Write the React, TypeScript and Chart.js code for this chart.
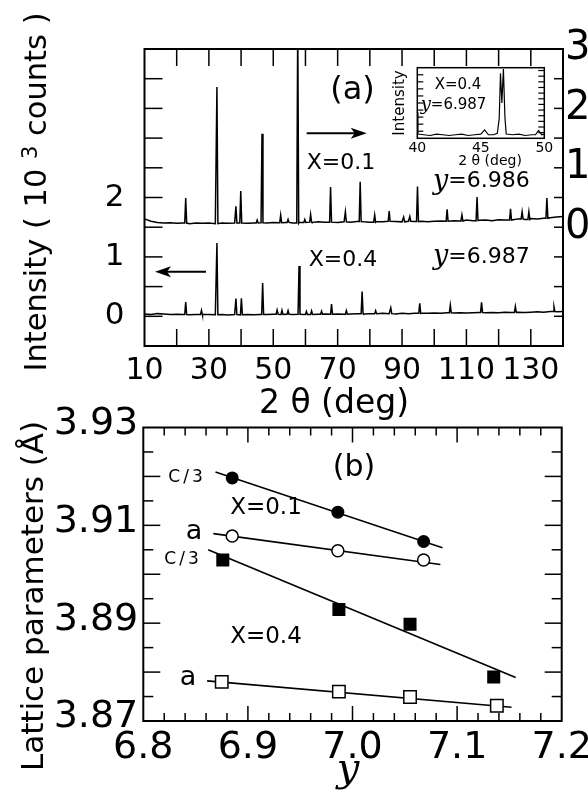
import React, { useEffect, useRef } from "react";
import { Chart, registerables } from "chart.js";

Chart.register(...registerables);
Chart.defaults.color = "#000";

const SANS = "'DejaVu Sans', 'Liberation Sans', sans-serif";
const SERIF = "'DejaVu Serif', 'Liberation Serif', serif";

// ---------------- Panel (a): XRD patterns ----------------
const baselineDeg = [10,12,14,16,18,20,22,24,26,28,30,32,34,36,38,40,42,44,46,48,50,52,54,56,58,60,62,64,66,68,70,72,74,76,78,80,82,84,86,88,90,92,94,96,98,100,102,104,106,108,110,112,114,116,118,120,122,124,126,128,130,132,134,136,138,140];
// X=0.1 pattern, right axis (10^3 counts)
const base01 = [0.14,0.10,0.08,0.07,0.075,0.065,0.07,0.06,0.07,0.065,0.07,0.06,0.07,0.065,0.07,0.075,0.065,0.07,0.075,0.07,0.08,0.075,0.08,0.07,0.08,0.085,0.08,0.09,0.085,0.09,0.08,0.09,0.085,0.095,0.09,0.085,0.095,0.09,0.1,0.095,0.09,0.1,0.095,0.1,0.09,0.1,0.105,0.1,0.11,0.105,0.12,0.11,0.115,0.12,0.11,0.125,0.12,0.13,0.14,0.13,0.145,0.14,0.15,0.16,0.17,0.18];
const peakDeg01 = [22.8,32.5,38.4,39.9,45.0,46.5,52.3,54.6,57.6,59.8,61.6,67.8,72.4,77.0,81.5,86.0,90.5,92.4,94.8,104.0,108.6,113.3,123.7,127.3,129.4,135.0];
const peakHt01 = [0.42,2.30,0.28,0.54,0.05,1.50,0.13,0.05,3.40,0.05,0.13,0.59,0.17,0.67,0.12,0.17,0.08,0.08,0.59,0.20,0.10,0.40,0.19,0.12,0.13,0.34];
// X=0.4 pattern, left axis (10^3 counts)
const base04 = [0.04,0.03,0.045,0.04,0.03,0.035,0.03,0.025,0.03,0.025,0.03,0.025,0.03,0.02,0.03,0.025,0.03,0.025,0.03,0.03,0.035,0.03,0.035,0.03,0.035,0.03,0.04,0.035,0.04,0.035,0.04,0.035,0.04,0.045,0.04,0.045,0.04,0.05,0.045,0.04,0.05,0.045,0.05,0.055,0.05,0.055,0.05,0.06,0.055,0.06,0.055,0.06,0.065,0.06,0.065,0.06,0.07,0.065,0.07,0.065,0.07,0.075,0.07,0.08,0.075,0.08];
const peakDeg04 = [22.8,27.7,32.5,38.4,40.1,46.7,51.2,52.7,54.6,58.0,60.3,61.9,65.0,68.1,72.7,77.6,81.8,86.5,95.5,105.0,114.7,125.2,137.2];
const peakHt04 = [0.21,0.07,1.21,0.27,0.28,0.53,0.07,0.07,0.06,0.81,0.05,0.06,0.05,0.17,0.06,0.37,0.05,0.10,0.17,0.13,0.17,0.10,0.08];
// inset (X=0.4, 40-50 deg), relative intensity
const insetDeg = [40.0,40.05,40.5,41,41.5,42,42.5,43,43.5,44,44.5,45,45.3,45.6,46,46.3,46.45,46.55,46.66,46.78,46.9,47.0,47.5,48,48.5,49,49.3,49.55,49.8,50];
const insetVal = [0.37,0.06,0.05,0.04,0.06,0.05,0.04,0.05,0.06,0.04,0.05,0.06,0.12,0.05,0.05,0.07,0.28,0.92,0.5,0.98,0.3,0.06,0.05,0.06,0.04,0.05,0.05,0.11,0.05,0.06];

const xTickLabelsA = [10, 30, 50, 70, 90, 110, 130];
const yLeftLabelsA = [0, 1, 2];
const yRightLabelsA = [0, 1, 2, 3];
const insetTickLabels = [40, 45, 50];

// ---------------- Panel (b): lattice parameters ----------------
const oxyC01 = [6.885, 6.986, 7.068];
const latC01 = [3.9197, 3.9127, 3.9067];
const oxyA01 = [6.885, 6.986, 7.068];
const latA01 = [3.9078, 3.9048, 3.9029];
const oxyC04 = [6.876, 6.987, 7.055, 7.135];
const latC04 = [3.9029, 3.8928, 3.8898, 3.879];
const oxyA04 = [6.875, 6.987, 7.055, 7.138];
const latA04 = [3.878, 3.876, 3.8749, 3.8731];
const fitC01x = [6.869, 7.086];
const fitC01y = [3.9209, 3.9054];
const fitA01x = [6.867, 7.084];
const fitA01y = [3.9083, 3.902];
const fitC04x = [6.862, 7.156];
const fitC04y = [3.905, 3.8789];
const fitA04x = [6.861, 7.152];
const fitA04y = [3.8782, 3.8728];

const xTickLabelsB = [6.8, 6.9, 7.0, 7.1, 7.2];
const yTickLabelsB = [3.87, 3.89, 3.91, 3.93];

// ---------------- helpers ----------------
const near = (v: number, arr: number[]) => arr.some((a) => Math.abs(a - v) < 1e-6);
const zip = (xs: number[], ys: number[]) => xs.map((x, i) => ({ x, y: ys[i] }));

function buildTrace(bx: number[], by: number[], px: number[], ph: number[], hw: number) {
  const pts: { x: number; y: number }[] = [];
  bx.forEach((x, i) => {
    if (!px.some((p) => Math.abs(p - x) <= hw)) pts.push({ x, y: by[i] });
  });
  px.forEach((p, i) => {
    let j = 0;
    while (j < bx.length - 1 && bx[j + 1] <= p) j++;
    const b = by[j];
    pts.push({ x: p - hw, y: b }, { x: p, y: b + ph[i] }, { x: p + hw, y: b });
  });
  return pts.sort((a, b) => a.x - b.x);
}

type TextItem = {
  t: string; x: number; y: number; size: number; family?: string; style?: string;
  rot?: number; align?: CanvasTextAlign; base?: CanvasTextBaseline; spacing?: number;
};

function drawText(ctx: CanvasRenderingContext2D, it: TextItem) {
  ctx.save();
  ctx.translate(it.x, it.y);
  if (it.rot) ctx.rotate(it.rot);
  ctx.font = `${it.style || "normal"} ${it.size}px ${it.family || SANS}`;
  ctx.fillStyle = "#000";
  ctx.textAlign = it.align || "center";
  ctx.textBaseline = it.base || "middle";
  if (it.spacing && "letterSpacing" in ctx) (ctx as any).letterSpacing = it.spacing + "px";
  ctx.fillText(it.t, 0, 0);
  ctx.restore();
}

type Seg = { t: string; size: number; family?: string; style?: string; dy?: number };
const segFont = (s: Seg) => `${s.style || "normal"} ${s.size}px ${s.family || SANS}`;

function drawRich(ctx: CanvasRenderingContext2D, x: number, y: number, segs: Seg[], rot = 0, centered = false) {
  ctx.save();
  ctx.translate(x, y);
  if (rot) ctx.rotate(rot);
  ctx.fillStyle = "#000";
  ctx.textAlign = "left";
  ctx.textBaseline = "middle";
  let total = 0;
  segs.forEach((s) => {
    ctx.font = segFont(s);
    total += ctx.measureText(s.t).width;
  });
  let cx = centered ? -total / 2 : 0;
  segs.forEach((s) => {
    ctx.font = segFont(s);
    ctx.fillText(s.t, cx, s.dy || 0);
    cx += ctx.measureText(s.t).width;
  });
  ctx.restore();
}

function arrow(ctx: CanvasRenderingContext2D, xTail: number, y: number, xTip: number) {
  const dir = xTip > xTail ? 1 : -1;
  ctx.save();
  ctx.strokeStyle = "#000";
  ctx.fillStyle = "#000";
  ctx.lineWidth = 2;
  ctx.beginPath();
  ctx.moveTo(xTail, y);
  ctx.lineTo(xTip - dir * 8, y);
  ctx.stroke();
  ctx.beginPath();
  ctx.moveTo(xTip, y);
  ctx.lineTo(xTip - dir * 16, y - 5.5);
  ctx.lineTo(xTip - dir * 12, y);
  ctx.lineTo(xTip - dir * 16, y + 5.5);
  ctx.closePath();
  ctx.fill();
  ctx.restore();
}

function tickAt(ctx: CanvasRenderingContext2D, a: any, side: string, p: number, l: number) {
  ctx.beginPath();
  if (side === "left" || side === "right") {
    if (p <= a.top + 1 || p >= a.bottom - 1) return;
    const x0 = side === "left" ? a.left : a.right;
    ctx.moveTo(x0, p);
    ctx.lineTo(side === "left" ? x0 + l : x0 - l, p);
  } else {
    if (p <= a.left + 1 || p >= a.right - 1) return;
    const y0 = side === "top" ? a.top : a.bottom;
    ctx.moveTo(p, y0);
    ctx.lineTo(p, side === "top" ? y0 + l : y0 - l);
  }
  ctx.stroke();
}

function innerTicks(chart: any, id: string, side: string, len: (v: number) => number, lw = 1.5) {
  const ctx = chart.ctx as CanvasRenderingContext2D;
  const s = chart.scales[id];
  const a = chart.chartArea;
  ctx.save();
  ctx.strokeStyle = "#000";
  ctx.lineWidth = lw;
  s.ticks.forEach((t: any) => {
    const l = len(t.value);
    if (l) tickAt(ctx, a, side, s.getPixelForValue(t.value), l);
  });
  ctx.restore();
}

function frame(chart: any, lw: number) {
  const ctx = chart.ctx as CanvasRenderingContext2D;
  const a = chart.chartArea;
  ctx.save();
  ctx.strokeStyle = "#000";
  ctx.lineWidth = lw;
  ctx.strokeRect(a.left, a.top, a.right - a.left, a.bottom - a.top);
  ctx.restore();
}

const fixW = (w: number) => (s: any) => {
  s.width = w;
  s.paddingTop = 0; s.paddingBottom = 0; s.paddingLeft = 0; s.paddingRight = 0;
};
const fixH = (h: number) => (s: any) => {
  s.height = h;
  s.paddingTop = 0; s.paddingBottom = 0; s.paddingLeft = 0; s.paddingRight = 0;
};
const noGrid = { display: false, drawTicks: false };
const noBorder = { display: false };

// ---------------- chart configs ----------------
function topConfig(): any {
  const traceStyle = { borderColor: "#000", borderWidth: 1.5, pointRadius: 0, tension: 0, fill: false };
  return {
    type: "line",
    data: {
      datasets: [
        { ...traceStyle, label: "X=0.1", yAxisID: "yR", data: buildTrace(baselineDeg, base01, peakDeg01, peakHt01, 0.3) },
        { ...traceStyle, label: "X=0.4", yAxisID: "yL", data: buildTrace(baselineDeg, base04, peakDeg04, peakHt04, 0.3) },
      ],
    },
    options: {
      responsive: false,
      animation: false,
      events: [],
      layout: { padding: { top: 49, left: 0, right: 0, bottom: 0 } },
      plugins: { legend: { display: false }, tooltip: { enabled: false } },
      scales: {
        x: {
          type: "linear", position: "bottom", min: 10, max: 140,
          grid: noGrid, border: noBorder,
          ticks: {
            stepSize: 10, autoSkip: false, maxRotation: 0, minRotation: 0, padding: 7,
            font: { family: SANS, size: 30 }, color: "#000",
            callback: (v: number) => (near(v, xTickLabelsA) ? String(v) : ""),
          },
          afterFit: fixH(74),
        },
        yL: {
          type: "linear", position: "left", min: -0.5, max: 4.5,
          grid: noGrid, border: noBorder,
          ticks: {
            stepSize: 0.5, autoSkip: false, padding: 20,
            font: { family: SANS, size: 31 }, color: "#000",
            callback: (v: number) => (near(v, yLeftLabelsA) ? String(v) : ""),
          },
          afterFit: fixW(144.5),
        },
        yR: {
          type: "linear", position: "right", min: -2, max: 3,
          grid: noGrid, border: noBorder,
          ticks: {
            stepSize: 0.5, autoSkip: false, padding: 2,
            font: { family: SANS, size: 40 }, color: "#000",
            callback: (v: number) => (near(v, yRightLabelsA) ? String(v) : ""),
          },
          afterFit: fixW(25),
        },
      },
    },
    plugins: [
      {
        id: "panelA",
        afterDraw(chart: any) {
          const ctx = chart.ctx as CanvasRenderingContext2D;
          frame(chart, 2);
          innerTicks(chart, "x", "top", () => 17);
          innerTicks(chart, "x", "bottom", () => 17);
          innerTicks(chart, "yL", "left", () => 18);
          innerTicks(chart, "yR", "right", () => 9);
          arrow(ctx, 306.7, 133.3, 366.7);
          arrow(ctx, 206, 271.7, 155);
          drawText(ctx, { t: "(a)", x: 352.5, y: 91, size: 32 });
          drawText(ctx, { t: "X=0.1", x: 341, y: 163.3, size: 22 });
          drawRich(ctx, 433, 181.7, [
            { t: "y", size: 27, family: SERIF, style: "italic" },
            { t: "=6.986", size: 22 },
          ]);
          drawText(ctx, { t: "X=0.4", x: 343, y: 260, size: 22 });
          drawRich(ctx, 433, 257, [
            { t: "y", size: 27, family: SERIF, style: "italic" },
            { t: "=6.987", size: 22 },
          ]);
          drawRich(ctx, 38, 192, [
            { t: "Intensity ( 10 ", size: 30.5 },
            { t: "3", size: 21, dy: -6 },
            { t: " counts )", size: 30.5 },
          ], -Math.PI / 2, true);
          drawText(ctx, { t: "2 \u03B8 (deg)", x: 334, y: 404, size: 33 });
        },
      },
    ],
  };
}

function insetConfig(): any {
  return {
    type: "line",
    data: {
      datasets: [
        {
          label: "inset", data: zip(insetDeg, insetVal),
          borderColor: "#000", borderWidth: 1.2, pointRadius: 0, tension: 0, fill: false,
        },
      ],
    },
    options: {
      responsive: false,
      animation: false,
      events: [],
      layout: { padding: { top: 7.7, right: 15.7, left: 0, bottom: 0 } },
      plugins: { legend: { display: false }, tooltip: { enabled: false } },
      scales: {
        x: {
          type: "linear", min: 40, max: 50, grid: noGrid, border: noBorder,
          ticks: {
            stepSize: 5, autoSkip: false, maxRotation: 0, padding: 2,
            font: { family: SANS, size: 14 }, color: "#000",
            callback: (v: number) => (near(v, insetTickLabels) ? String(v) : ""),
          },
          afterFit: fixH(31.7),
        },
        y: {
          type: "linear", min: 0, max: 1, grid: noGrid, border: noBorder,
          ticks: { stepSize: 0.1, display: false },
          afterFit: fixW(32.3),
        },
      },
    },
    plugins: [
      {
        id: "inset",
        afterDraw(chart: any) {
          const ctx = chart.ctx as CanvasRenderingContext2D;
          const a = chart.chartArea;
          const ys = chart.scales.y;
          frame(chart, 1.5);
          innerTicks(chart, "y", "left", () => 6, 1.2);
          ctx.save();
          ctx.strokeStyle = "#000";
          ctx.lineWidth = 1.2;
          for (let k = 1; k * 0.08 < 1; k++) tickAt(ctx, a, "right", ys.getPixelForValue(k * 0.08), 6);
          ctx.restore();
          drawText(ctx, { t: "Intensity", x: 15, y: 43, size: 15, rot: -Math.PI / 2 });
          drawText(ctx, { t: "2 \u03B8 (deg)", x: 105, y: 101, size: 14 });
          drawText(ctx, { t: "X=0.4", x: 73, y: 25, size: 15 });
          drawRich(ctx, 35.7, 45, [
            { t: "y", size: 18, family: SERIF, style: "italic" },
            { t: "=6.987", size: 15 },
          ]);
        },
      },
    ],
  };
}

function bottomConfig(): any {
  const lineStyle = { showLine: true, borderColor: "#000", borderWidth: 1.6, pointRadius: 0, tension: 0, fill: false };
  return {
    type: "scatter",
    data: {
      datasets: [
        { label: "c/3 X=0.1", data: zip(oxyC01, latC01), pointStyle: "circle", pointRadius: 6.5, backgroundColor: "#000", borderColor: "#000", borderWidth: 0 },
        { label: "a X=0.1", data: zip(oxyA01, latA01), pointStyle: "circle", pointRadius: 6, backgroundColor: "#fff", borderColor: "#000", borderWidth: 1.5 },
        { label: "c/3 X=0.4", data: zip(oxyC04, latC04), pointStyle: "rect", pointRadius: 9.2, backgroundColor: "#000", borderColor: "#000", borderWidth: 0 },
        { label: "a X=0.4", data: zip(oxyA04, latA04), pointStyle: "rect", pointRadius: 8.8, backgroundColor: "#fff", borderColor: "#000", borderWidth: 1.5 },
        { ...lineStyle, label: "fit c/3 X=0.1", data: zip(fitC01x, fitC01y) },
        { ...lineStyle, label: "fit a X=0.1", data: zip(fitA01x, fitA01y) },
        { ...lineStyle, label: "fit c/3 X=0.4", data: zip(fitC04x, fitC04y) },
        { ...lineStyle, label: "fit a X=0.4", data: zip(fitA04x, fitA04y) },
      ],
    },
    options: {
      responsive: false,
      animation: false,
      events: [],
      layout: { padding: { top: 27.5, right: 26.3, left: 0, bottom: 0 } },
      plugins: { legend: { display: false }, tooltip: { enabled: false } },
      scales: {
        x: {
          type: "linear", position: "bottom", min: 6.8, max: 7.2,
          grid: noGrid, border: noBorder,
          ticks: {
            stepSize: 0.02, autoSkip: false, maxRotation: 0, minRotation: 0, padding: 4.5,
            font: { family: SANS, size: 38 }, color: "#000",
            callback: (v: number) => (near(v, xTickLabelsB) ? v.toFixed(1) : ""),
          },
          afterFit: fixH(71),
        },
        y: {
          type: "linear", position: "left", min: 3.87, max: 3.93,
          grid: noGrid, border: noBorder,
          ticks: {
            stepSize: 0.005, autoSkip: false, padding: 5, labelOffset: -3.5,
            font: { family: SANS, size: 38 }, color: "#000",
            callback: (v: number) => (near(v, yTickLabelsB) ? v.toFixed(2) : ""),
          },
          afterFit: fixW(143.3),
        },
      },
    },
    plugins: [
      {
        id: "panelB",
        afterDraw(chart: any) {
          const ctx = chart.ctx as CanvasRenderingContext2D;
          const xMajor = (v: number) => Math.abs(Math.round(v * 10) - v * 10) < 1e-6;
          const yMajor = (v: number) => Math.abs(Math.round(v * 100) - v * 100) < 1e-6;
          frame(chart, 2);
          innerTicks(chart, "x", "top", (v) => (xMajor(v) ? 15 : 8));
          innerTicks(chart, "x", "bottom", (v) => (xMajor(v) ? 15 : 8));
          innerTicks(chart, "y", "left", (v) => (yMajor(v) ? 17 : 10));
          innerTicks(chart, "y", "right", (v) => (yMajor(v) ? 17 : 10));
          drawText(ctx, { t: "(b)", x: 354, y: 68.3, size: 30 });
          drawText(ctx, { t: "C/3", x: 187, y: 77.3, size: 17, spacing: 3 });
          drawText(ctx, { t: "X=0.1", x: 266, y: 108.3, size: 23 });
          drawText(ctx, { t: "a", x: 194, y: 131.7, size: 27 });
          drawText(ctx, { t: "C/3", x: 183, y: 160, size: 17, spacing: 3 });
          drawText(ctx, { t: "X=0.4", x: 266, y: 236.7, size: 23 });
          drawText(ctx, { t: "a", x: 188, y: 278.3, size: 27 });
          drawText(ctx, { t: "Lattice parameters (\u00C5)", x: 35, y: 196, size: 31, rot: -Math.PI / 2 });
          drawText(ctx, { t: "y", x: 348, y: 381, size: 40, family: SERIF, style: "italic", base: "alphabetic" });
        },
      },
    ],
  };
}

export default function App() {
  const topRef = useRef<HTMLCanvasElement | null>(null);
  const insetRef = useRef<HTMLCanvasElement | null>(null);
  const botRef = useRef<HTMLCanvasElement | null>(null);

  useEffect(() => {
    const charts: Chart[] = [];
    if (topRef.current) charts.push(new Chart(topRef.current, topConfig()));
    if (insetRef.current) charts.push(new Chart(insetRef.current, insetConfig()));
    if (botRef.current) charts.push(new Chart(botRef.current, bottomConfig()));
    return () => charts.forEach((c) => c.destroy());
  }, []);

  return (
    <div style={{ position: "absolute", left: 0, top: 0, width: 588, height: 792, background: "#fff", overflow: "hidden" }}>
      <canvas ref={topRef} width={588} height={420} style={{ position: "absolute", left: 0, top: 0, width: 588, height: 420 }} />
      <canvas ref={insetRef} width={175} height={110} style={{ position: "absolute", left: 385, top: 60, width: 175, height: 110 }} />
      <canvas ref={botRef} width={588} height={392} style={{ position: "absolute", left: 0, top: 400, width: 588, height: 392 }} />
    </div>
  );
}
